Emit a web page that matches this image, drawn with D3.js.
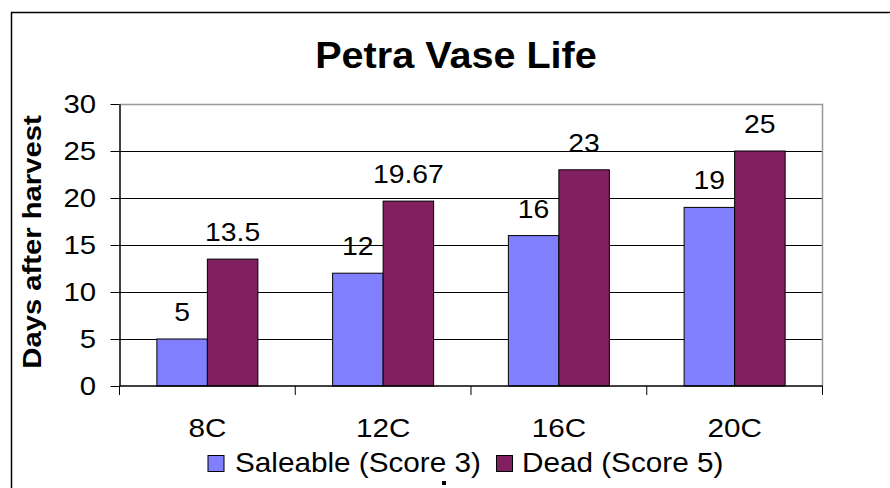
<!DOCTYPE html>
<html>
<head>
<meta charset="utf-8">
<script src="https://cdn.jsdelivr.net/npm/d3@7"></script>
<style>
  html, body { margin: 0; padding: 0; background: #fff; }
  svg { display: block; font-family: "Liberation Sans", Arial, sans-serif; }
</style>
</head>
<body>
<svg id="chart" width="890" height="488"></svg>
<script>
// Vase life of Petra roses by storage temperature
const categories = ["8C", "12C", "16C", "20C"];
const seriesNames = ["Saleable (Score 3)", "Dead (Score 5)"];
const saleable = [5, 12, 16, 19];
const dead = [13.5, 19.67, 23, 25];
const yTicks = [0, 5, 10, 15, 20, 25, 30];
const seriesColors = ["#8080FF", "#802060"];

const svg = d3.select("#chart");
const W = 890, H = 488;
const plot = { left: 119.5, right: 822.5, top: 104, bottom: 386 };

// Text in this chart is set slightly wide; draw it with a horizontal stretch
function wideText(parent, x, y, str, size, sx, anchor, weight) {
  return parent.append("text")
    .attr("transform", `translate(${x},${y}) scale(${sx},1)`)
    .attr("text-anchor", anchor || "start")
    .attr("font-size", size)
    .attr("font-weight", weight || "normal")
    .text(str);
}

// Outer chart frame (left and top edges are inside the view)
svg.append("path")
  .attr("d", `M11.5,${H + 2} L11.5,12.5 L${W + 2},12.5`)
  .attr("fill", "none").attr("stroke", "#000").attr("stroke-width", 1.5);

const x = d3.scaleBand().domain(categories).range([plot.left, plot.right]).paddingInner(0).paddingOuter(0);
const xSub = d3.scaleBand().domain(seriesNames).range([0, x.bandwidth()]).paddingInner(0).paddingOuter(0.74);
const y = d3.scaleLinear().domain([0, 30]).range([plot.bottom, plot.top]);

// Gridlines
svg.append("g").selectAll("line").data(yTicks.filter(t => t > 0 && t < 30)).join("line")
  .attr("x1", plot.left).attr("x2", plot.right)
  .attr("y1", d => Math.round(y(d)) + 0.5).attr("y2", d => Math.round(y(d)) + 0.5)
  .attr("stroke", "#000").attr("stroke-width", 1);

// Plot area frame (top and right in grey)
svg.append("path")
  .attr("d", `M${plot.left},${plot.top + 0.5} L${plot.right},${plot.top + 0.5} L${plot.right},${plot.bottom}`)
  .attr("fill", "none").attr("stroke", "#999").attr("stroke-width", 1.5);

// Bars
const rows = categories.map((c, i) => ({ cat: c, values: [saleable[i], dead[i]] }));
const groups = svg.append("g").selectAll("g").data(rows).join("g")
  .attr("transform", d => `translate(${x(d.cat)},0)`);
groups.selectAll("rect").data(d => d.values.map((v, k) => ({ v, k }))).join("rect")
  .attr("x", d => xSub(seriesNames[d.k]))
  .attr("width", xSub.bandwidth())
  .attr("y", d => y(d.v))
  .attr("height", d => plot.bottom - y(d.v))
  .attr("fill", d => seriesColors[d.k])
  .attr("stroke", "#000").attr("stroke-width", 1);

// Data labels
groups.each(function (d) {
  const g = d3.select(this);
  d.values.forEach((v, k) => {
    wideText(g, xSub(seriesNames[k]) + xSub.bandwidth() / 2, y(v) - 18, String(v), 26, 1.09, "middle");
  });
});

// Y axis
const yAxis = d3.axisLeft(y).tickValues(yTicks).tickSize(9).tickPadding(13).tickSizeOuter(0);
const gy = svg.append("g").attr("transform", `translate(${plot.left},0)`).call(yAxis);
gy.select(".domain").attr("stroke", "#000").attr("stroke-width", 1.5);
gy.selectAll(".tick line").attr("stroke", "#000");
gy.selectAll(".tick text")
  .attr("x", 0)
  .attr("transform", "translate(-23.5,0) scale(1.15,1)")
  .attr("font-size", 25.5).attr("font-family", "Liberation Sans, Arial, sans-serif").attr("fill", "#000");

// X axis: ticks sit on the category boundaries
const gx = svg.append("g").attr("transform", `translate(0,${plot.bottom})`);
gx.append("line").attr("x1", plot.left).attr("x2", plot.right).attr("y1", 0).attr("y2", 0)
  .attr("stroke", "#000").attr("stroke-width", 1.5);
const bounds = categories.map(c => x(c)).concat([plot.right]);
gx.selectAll("line.tk").data(bounds).join("line").attr("class", "tk")
  .attr("x1", d => d).attr("x2", d => d).attr("y1", 0).attr("y2", 9)
  .attr("stroke", "#000").attr("stroke-width", 1);
categories.forEach(c => {
  wideText(gx, x(c) + x.bandwidth() / 2, 51, c, 26.5, 1.12, "middle");
});

// Title
wideText(svg, 456, 68, "Petra Vase Life", 37, 1.07, "middle", "bold");

// Y axis title
svg.append("text")
  .attr("transform", "translate(41,242) rotate(-90) scale(1.17,1)")
  .attr("text-anchor", "middle")
  .attr("font-size", 25).attr("font-weight", "bold")
  .text("Days after harvest");

// Legend
const legendItems = [
  { name: seriesNames[0], color: seriesColors[0], sx: 208, tx: 235 },
  { name: seriesNames[1], color: seriesColors[1], sx: 496.5, tx: 522 }
];
const lg = svg.append("g");
legendItems.forEach(it => {
  lg.append("rect").attr("x", it.sx).attr("y", 455.5).attr("width", 16).attr("height", 16)
    .attr("fill", it.color).attr("stroke", "#000").attr("stroke-width", 1);
  wideText(lg, it.tx, 472, it.name, 27, 1.1, "start");
});

// Small mark below the legend
svg.append("rect").attr("x", 442).attr("y", 481).attr("width", 4).attr("height", 4).attr("fill", "#000");
</script>
</body>
</html>
